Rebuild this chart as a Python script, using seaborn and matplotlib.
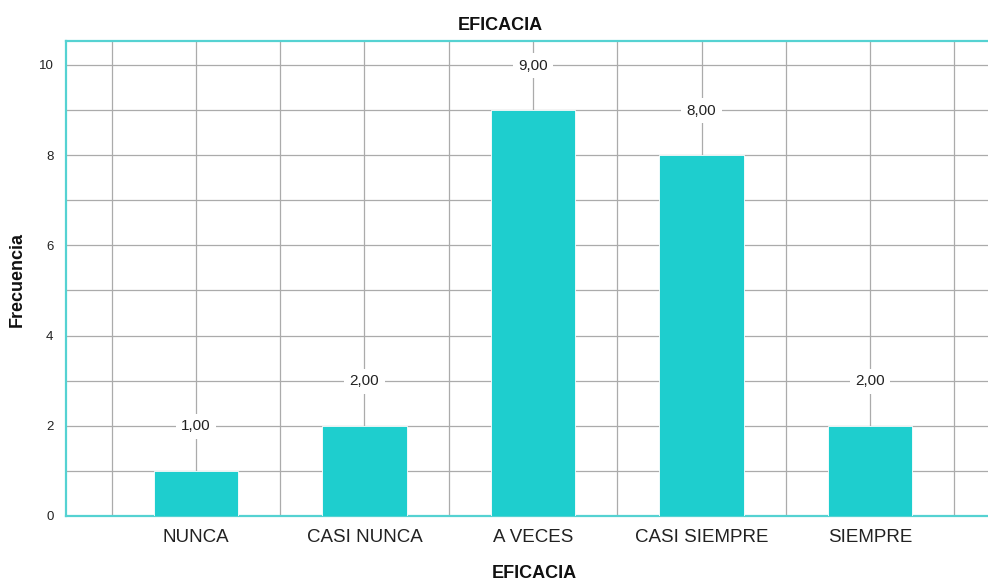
import matplotlib
matplotlib.use("Agg")
import matplotlib.pyplot as plt
import seaborn as sns
import pandas as pd
import numpy as np

# Frequency of responses for the EFICACIA item
categories = ["NUNCA", "CASI NUNCA", "A VECES", "CASI SIEMPRE", "SIEMPRE"]
frequencies = [1.0, 2.0, 9.0, 8.0, 2.0]
y_tick_values = [0, 2, 4, 6, 8, 10]

BAR_COLOR = "#1ECECE"
FRAME_COLOR = "#55D2D2"
GRID_COLOR = "#ABABAB"
TEXT_COLOR = "#222222"

sns.set_theme(style="white")
plt.rcParams["font.family"] = ["Liberation Sans", "DejaVu Sans"]

df = pd.DataFrame({"categoria": categories, "frecuencia": frequencies})

fig = plt.figure(figsize=(9.88, 5.82), dpi=100)
ax = fig.add_axes([66 / 988, 1 - 516 / 582, 934 / 988, (516 - 41) / 582])

sns.barplot(data=df, x="categoria", y="frecuencia", color=BAR_COLOR,
            saturation=1, width=0.5, edgecolor="white", linewidth=0.6,
            ax=ax, zorder=3)

ax.set_xlim(-0.7715, 4.7715)
ax.set_ylim(0, 10.53)

# Major ticks carry labels; minor ticks only add grid lines
ax.set_yticks(y_tick_values)
ax.set_yticks(np.arange(1, 11, 2), minor=True)
ax.set_xticks(range(len(categories)))
ax.set_xticks(np.arange(-0.5, len(categories), 1.0), minor=True)
ax.set_xticklabels(categories)
ax.set_yticklabels([str(v) for v in y_tick_values])

ax.grid(True, which="both", color=GRID_COLOR, linewidth=0.9, zorder=0)
ax.set_axisbelow(True)

ax.tick_params(axis="x", which="both", length=0, pad=9, labelsize=13.5,
               labelcolor=TEXT_COLOR)
ax.tick_params(axis="y", which="both", length=0, pad=9, labelsize=9.5,
               labelcolor=TEXT_COLOR)

for side in ["left", "top", "bottom"]:
    ax.spines[side].set_visible(True)
    ax.spines[side].set_color(FRAME_COLOR)
    ax.spines[side].set_linewidth(1.6)
ax.spines["right"].set_visible(False)

ax.set_xlabel("")
ax.set_ylabel("")

# Value labels above each bar, on a white box that interrupts the grid
for i, v in enumerate(frequencies):
    ax.annotate(f"{v:.2f}".replace(".", ","), xy=(i, v), xytext=(0, 32),
                textcoords="offset points", ha="center", va="center",
                fontsize=11, color=TEXT_COLOR, zorder=5,
                bbox=dict(boxstyle="square,pad=0.35", fc="white", ec="none"))

fig.text(500 / 988, 1 - 25.5 / 582, "EFICACIA", ha="center", va="center",
         fontsize=13, fontweight="bold", color="#111111")
fig.text(534 / 988, 1 - 573 / 582, "EFICACIA", ha="center", va="center",
         fontsize=13, fontweight="bold", color="#111111")
fig.text(17 / 988, 1 - 279 / 582, "Frecuencia", ha="center", va="center",
         rotation=90, fontsize=13, fontweight="bold", color="#111111")

fig.savefig("out.png", dpi=100)
